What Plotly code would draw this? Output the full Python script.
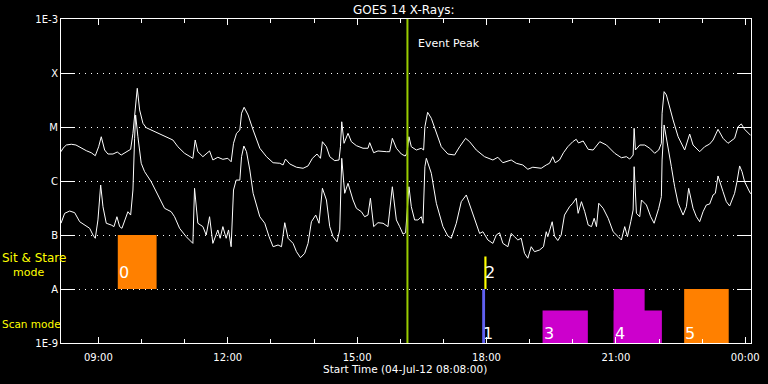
import math
import plotly.graph_objects as go
from datetime import datetime, timedelta

# ---------------- data ----------------
START_TIME = "2012-07-04 08:08:00"
END_TIME = "2012-07-05 00:08:00"
EVENT_PEAK = "2012-07-04 16:10:00"

# GOES 14 long channel (1-8 A), minutes after start time / flux W m^-2
UPPER_MIN = [0, 2.8, 7.4, 14.3, 20.8, 28.2, 35.2, 42.1, 47.7, 52.4,
             56.0, 60.7, 65.3, 72.3, 78.3, 83.8, 90.8, 96.9, 100.1, 102.4,
             106.1, 109.4, 114.0, 118.6, 130.2, 144.1, 155.7, 162.6, 171.9, 183.5,
             186.7, 190.4, 197.4, 206.7, 211.3, 218.2, 225.2, 232.1, 236.7, 240.0,
             244.2, 248.8, 251.2, 254.8, 260.3, 267.3, 276.6, 285.9, 295.1, 304.4,
             309.0, 312.3, 318.3, 327.6, 336.8, 343.7, 349.8, 356.2, 361.0, 363.7,
             369.3, 373.9, 380.8, 386.8, 388.8, 390.6, 393.8, 399.3, 404.0, 411.0,
             420.2, 427.1, 429.5, 435.0, 441.0, 452.7, 457.3, 461.0, 466.6, 473.5,
             478.8, 481.3, 484.1, 487.4, 494.4, 501.3, 504.5, 506.3, 510.1, 515.2,
             522.2, 529.1, 538.3, 547.6, 554.6, 562.9, 568.5, 577.8, 589.3, 600.9,
             607.8, 614.8, 626.4, 633.4, 642.5, 649.5, 656.4, 668.1, 675.1, 679.7,
             684.2, 687.6, 693.6, 699.1, 705.1, 712.0, 716.8, 720.0, 726.5, 733.5,
             740.4, 749.6, 758.9, 770.4, 779.7, 786.7, 791.3, 796.0, 797.4, 799.2,
             805.2, 812.1, 819.1, 826.0, 831.6, 835.3, 836.3, 839.1, 842.3, 846.9,
             851.6, 858.6, 867.7, 874.7, 879.4, 888.6, 895.5, 902.5, 907.2, 914.1,
             921.1, 928.0, 937.2, 941.9, 946.5, 951.1, 955.8, 959.5]
UPPER_FLUX = [3.49e-6, 4.04e-6, 4.64e-6, 4.79e-6, 4.64e-6, 4.04e-6, 3.64e-6, 3.34e-6, 2.94e-6, 4.31e-6,
              6.6e-6, 3.75e-6, 3.16e-6, 3.16e-6, 3.44e-6, 3.03e-6, 3.49e-6, 3.86e-6, 7.64e-6, 1.55e-5,
              5.21e-5, 2.07e-5, 1.17e-5, 9.7e-6, 8.18e-6, 6.6e-6, 5.74e-6, 4.31e-6, 3.26e-6, 2.63e-6,
              5.74e-6, 3.49e-6, 2.82e-6, 3.60e-6, 2.45e-6, 2.75e-6, 2.52e-6, 2.63e-6, 2.27e-6, 4.99e-6,
              7.64e-6, 8.79e-6, 1.80e-5, 2.32e-5, 1.67e-5, 8.79e-6, 4.04e-6, 2.82e-6, 2.18e-6, 2.13e-6,
              1.98e-6, 2.55e-6, 2.07e-6, 1.80e-6, 1.72e-6, 1.90e-6, 2.63e-6, 3.16e-6, 2.63e-6, 5.34e-6,
              4.31e-6, 2.82e-6, 2.38e-6, 2.45e-6, 4.31e-6, 1.25e-5, 4.99e-6, 7.64e-6, 5.34e-6, 4.51e-6,
              4.04e-6, 4.04e-6, 5.12e-6, 3.34e-6, 3.60e-6, 3.49e-6, 3.49e-6, 6.18e-6, 4.04e-6, 3.16e-6,
              2.90e-6, 3.26e-6, 6.6e-6, 4.31e-6, 3.75e-6, 4.04e-6, 3.75e-6, 1.01e-5, 1.87e-5, 1.45e-5,
              7.64e-6, 4.31e-6, 3.16e-6, 3.03e-6, 4.31e-6, 6.18e-6, 5.34e-6, 3.75e-6, 2.82e-6, 2.45e-6,
              2.75e-6, 2.18e-6, 2.45e-6, 2.13e-6, 1.98e-6, 1.65e-6, 1.80e-6, 1.72e-6, 1.98e-6, 2.13e-6,
              2.82e-6, 2.18e-6, 2.45e-6, 3.34e-6, 4.31e-6, 5.34e-6, 5.92e-6, 5.06e-6, 5.51e-6, 3.86e-6,
              3.75e-6, 5.34e-6, 4.64e-6, 3.26e-6, 2.70e-6, 2.82e-6, 2.55e-6, 3.03e-6, 9.46e-6, 3.75e-6,
              4.64e-6, 4.64e-6, 4.04e-6, 3.26e-6, 3.75e-6, 4.99e-6, 1.80e-5, 4.51e-5, 3.92e-5, 2.22e-5,
              1.35e-5, 6.6e-6, 3.75e-6, 7.41e-6, 4.64e-6, 3.49e-6, 4.31e-6, 4.84e-6, 5.74e-6, 9.05e-6,
              6.18e-6, 4.99e-6, 6.18e-6, 1.01e-5, 1.14e-5, 9.05e-6, 7.83e-6, 7.0e-6]

# GOES 14 short channel (0.5-4 A)
LOWER_MIN = [0, 5.1, 12.1, 19.0, 26.0, 32.9, 39.9, 44.5, 47.7, 51.4,
             55.2, 58.4, 63.0, 69.9, 73.7, 77.8, 81.6, 84.8, 88.5, 93.1,
             96.9, 100.1, 102.4, 103.8, 107.0, 111.6, 116.3, 125.5, 134.8, 144.1,
             153.3, 158.0, 165.0, 174.2, 183.5, 185.8, 190.4, 197.4, 202.0, 206.7,
             211.3, 218.2, 221.4, 225.2, 229.8, 233.1, 236.7, 240.0, 243.7, 248.8,
             251.2, 254.4, 258.1, 262.7, 267.3, 276.6, 283.5, 289.5, 295.1, 302.0,
             306.8, 311.3, 315.9, 322.9, 327.6, 333.2, 339.1, 343.7, 348.4, 354.4,
             359.0, 363.7, 369.3, 373.9, 378.5, 384.0, 387.8, 390.6, 394.7, 399.3,
             406.3, 411.0, 417.9, 422.5, 427.1, 430.5, 435.0, 441.0, 448.0, 454.9,
             461.0, 466.6, 471.2, 475.8, 479.5, 481.3, 484.1, 487.4, 492.0, 496.6,
             501.3, 503.6, 506.3, 508.3, 515.2, 522.2, 531.4, 538.3, 543.0, 550.0,
             556.9, 563.9, 568.5, 575.4, 582.4, 587.0, 593.9, 600.9, 605.6, 610.2,
             614.8, 621.7, 626.4, 631.0, 635.6, 640.3, 644.9, 649.5, 654.2, 658.8,
             665.8, 671.3, 675.1, 677.3, 683.4, 686.6, 691.2, 695.9, 700.5, 707.5,
             712.0, 716.8, 719.5, 724.1, 728.7, 733.5, 738.1, 741.8, 745.0, 748.2,
             754.3, 761.3, 768.2, 775.2, 779.7, 784.3, 788.1, 792.7, 796.0, 797.4,
             800.6, 805.2, 807.6, 814.5, 820.5, 825.2, 831.6, 835.3, 836.3, 839.1,
             844.7, 849.2, 853.8, 858.6, 865.5, 870.1, 873.3, 879.4, 884.0, 888.6,
             893.3, 897.9, 902.5, 907.2, 910.4, 914.1, 921.1, 925.7, 930.3, 937.2,
             940.5, 944.2, 947.5, 951.1, 956.7, 959.5]
LOWER_FLUX = [1.65e-7, 2.52e-7, 2.78e-7, 2.59e-7, 1.76e-7, 1.53e-7, 1.33e-7, 1.0e-7, 8.69e-8, 1.90e-7,
              8.43e-7, 3.34e-7, 1.65e-7, 1.53e-7, 1.43e-7, 2.18e-7, 1.43e-7, 1.33e-7, 1.90e-7, 2.70e-7,
              2.34e-7, 6.81e-7, 6.18e-6, 1.67e-5, 6.6e-6, 2.13e-6, 1.49e-6, 9.7e-7, 5.51e-7, 3.12e-7,
              2.70e-7, 2.18e-7, 1.33e-7, 9.3e-8, 7.0e-8, 7.33e-7, 1.65e-7, 1.43e-7, 1.0e-7, 2.18e-7,
              7.0e-8, 1.24e-7, 8.69e-8, 1.43e-7, 8.69e-8, 1.24e-7, 6.07e-8, 6.81e-7, 1.04e-6, 1.04e-6,
              2.82e-6, 4.45e-6, 3.49e-6, 1.60e-6, 5.92e-7, 2.18e-7, 1.65e-7, 9.3e-8, 6.07e-8, 6.53e-8,
              6.07e-8, 1.69e-7, 8.69e-8, 7.0e-8, 4.91e-8, 3.8e-8, 4.58e-8, 7.0e-8, 1.76e-7, 2.34e-7,
              1.65e-7, 7.33e-7, 4.45e-7, 1.43e-7, 9.3e-8, 7.5e-8, 1.24e-7, 2.63e-6, 5.92e-7, 9.06e-7,
              4.45e-7, 3.12e-7, 2.70e-7, 2.18e-7, 2.34e-7, 4.79e-7, 1.43e-7, 1.69e-7, 1.65e-7, 1.43e-7,
              7.83e-7, 1.90e-7, 1.43e-7, 1.04e-7, 1.1e-7, 2.52e-7, 7.83e-7, 3.34e-7, 1.90e-7, 1.90e-7,
              2.18e-7, 1.65e-7, 1.84e-6, 2.63e-6, 1.39e-6, 3.87e-7, 1.43e-7, 9.57e-8, 8.69e-8, 1.65e-7,
              4.14e-7, 5.51e-7, 3.60e-7, 1.90e-7, 1.07e-7, 1.15e-7, 8.09e-8, 7.0e-8, 1.0e-7, 1.1e-7,
              7.0e-8, 6.07e-8, 1.07e-7, 9.3e-8, 8.09e-8, 8.69e-8, 4.58e-8, 3.71e-8, 6.07e-8, 4.91e-8,
              5.27e-8, 6.07e-8, 1.15e-7, 9.3e-8, 1.76e-7, 9.57e-8, 7.9e-8, 1.0e-7, 2.34e-7, 3.34e-7,
              3.87e-7, 4.79e-7, 2.52e-7, 4.14e-7, 2.70e-7, 1.53e-7, 1.43e-7, 2.04e-7, 1.43e-7, 3.87e-7,
              3.12e-7, 2.04e-7, 1.15e-7, 9.3e-8, 8.09e-8, 1.43e-7, 9.3e-8, 1.76e-7, 2.90e-7, 1.84e-6,
              2.52e-7, 2.18e-7, 4.45e-7, 3.60e-7, 2.18e-7, 1.65e-7, 3.12e-7, 5.12e-7, 2.45e-6, 1.09e-5,
              4.31e-6, 1.84e-6, 7.83e-7, 3.87e-7, 2.34e-7, 3.34e-7, 7.33e-7, 3.12e-7, 2.18e-7, 1.76e-7,
              2.70e-7, 3.60e-7, 3.75e-7, 5.51e-7, 5.92e-7, 1.24e-6, 6.34e-7, 4.14e-7, 3.44e-7, 5.92e-7,
              9.7e-7, 1.90e-6, 1.49e-6, 9.7e-7, 6.81e-7, 5.8e-7]

# observations (Sit & Stare band: A..B, Scan band: 1E-9..A)
OBS_LABEL = ["0", "1", "2", "3", "4", "", "5"]
OBS_START = ["09:27", "17:54", "17:57", "19:18", "20:57", "20:57", "22:35"]
OBS_END = ["10:21", "17:58", "18:00", "20:21", "21:40", "22:04", "23:37"]
OBS_LOW = [1e-8, 1e-9, 1e-8, 1e-9, 1e-9, 1e-9, 1e-9]
OBS_HIGH = [1e-7, 1e-8, 4e-8, 4e-9, 1e-8, 4e-9, 1e-8]

Y_TICK_VALS = [1e-9, 1e-8, 1e-7, 1e-6, 1e-5, 1e-4, 1e-3]
Y_TICK_TEXT = ["1E-9", "A", "B", "C", "M", "X", "1E-3"]

# ---------------- styles ----------------
OBS_COLOR = ["#ff8000", "#6060f0", "#ffff00", "#cc00cc", "#cc00cc", "#cc00cc", "#ff8000"]
FONT = "DejaVu Sans"

start = datetime.strptime(START_TIME, "%Y-%m-%d %H:%M:%S")


def at(m):
    return start + timedelta(minutes=m)


def clock(hhmm):
    h, mi = map(int, hhmm.split(":"))
    return datetime(2012, 7, 4, h, mi)


fig = go.Figure()

for lab, s, e, lo, hi, col in zip(OBS_LABEL, OBS_START, OBS_END, OBS_LOW, OBS_HIGH, OBS_COLOR):
    xs, xe = clock(s), clock(e)
    fig.add_trace(go.Scatter(x=[xs, xe, xe, xs, xs], y=[lo, lo, hi, hi, lo],
                             mode="lines", fill="toself", fillcolor=col,
                             line=dict(width=0, color=col), hoverinfo="skip"))

fig.add_trace(go.Scatter(x=[at(m) for m in UPPER_MIN], y=UPPER_FLUX, mode="lines",
                         line=dict(color="white", width=1)))
fig.add_trace(go.Scatter(x=[at(m) for m in LOWER_MIN], y=LOWER_FLUX, mode="lines",
                         line=dict(color="white", width=1)))
fig.add_trace(go.Scatter(x=[EVENT_PEAK, EVENT_PEAK], y=[Y_TICK_VALS[0], Y_TICK_VALS[-1]],
                         mode="lines", line=dict(color="#99cc00", width=2)))

# observation number labels (annotations on a log axis take log10 positions)
for lab, s, lo in zip(OBS_LABEL, OBS_START, OBS_LOW):
    if not lab:
        continue
    fig.add_annotation(x=clock(s), y=math.log10(lo), yref="y", xref="x", text=lab,
                       showarrow=False, xanchor="left", yanchor="middle", xshift=-1,
                       yshift=17 if lo >= 1e-8 else 10,
                       font=dict(family=FONT, size=16, color="white"))

PL, PR, PT, PB = 61, 751, 19, 343
W, H = PR - PL, PB - PT


def px(x):
    return (x - PL) / W


def py(y):
    return (PB - y) / H


texts = [
    ("GOES 14 X-Rays:", px(404), py(10), "center", 12, "white"),
    ("Start Time (04-Jul-12 08:08:00)", px(405), py(369), "center", 10.5, "white"),
    ("Sit & Stare", px(1), py(258), "left", 12, "#ffff00"),
    ("mode", px(12), py(272.5), "left", 11, "#ffff00"),
    ("Scan mode", px(1), py(324), "left", 10.5, "#ffff00"),
]
for t, x, y, anc, sz, col in texts:
    fig.add_annotation(x=x, y=y, xref="paper", yref="paper", text=t, showarrow=False,
                       xanchor=anc, yanchor="middle", borderpad=0,
                       font=dict(family=FONT, size=sz, color=col))

fig.add_annotation(x=EVENT_PEAK, y=py(43), xref="x", yref="paper", text="Event Peak",
                   showarrow=False, xanchor="left", yanchor="middle", xshift=9,
                   font=dict(family=FONT, size=11, color="white"))

fig.update_layout(
    width=768, height=384,
    margin=dict(l=PL, r=768 - PR, t=PT, b=384 - PB, autoexpand=False),
    paper_bgcolor="black", plot_bgcolor="black",
    showlegend=False,
    font=dict(family=FONT, color="white", size=10),
)
fig.update_xaxes(
    type="date", range=[START_TIME, END_TIME], automargin=False,
    tick0="2012-07-04 09:00", dtick=3 * 3600000, tickformat="%H:%M",
    ticks="inside", ticklen=6, tickcolor="white", tickwidth=1,
    minor=dict(dtick=3600000, tick0="2012-07-04 09:00", ticks="inside", ticklen=4,
               tickcolor="white", tickwidth=1, showgrid=False),
    showgrid=False, zeroline=False,
    showline=True, linecolor="white", linewidth=1, mirror="ticks",
    tickfont=dict(family=FONT, size=10, color="white"), ticklabelstandoff=5,
)
fig.update_yaxes(
    type="log", range=[-9, -3], automargin=False,
    tickvals=Y_TICK_VALS, ticktext=Y_TICK_TEXT,
    ticks="inside", ticklen=14, tickcolor="white", tickwidth=1,
    showgrid=True, gridcolor="white", gridwidth=1, griddash="1px,5px",
    zeroline=False, showline=True, linecolor="white", linewidth=1, mirror="ticks",
    tickfont=dict(family=FONT, size=10, color="white"),
)

fig.write_html("out.html", config={"displayModeBar": False},
               post_script="document.body.style.margin='0';document.body.style.overflow='hidden';")
